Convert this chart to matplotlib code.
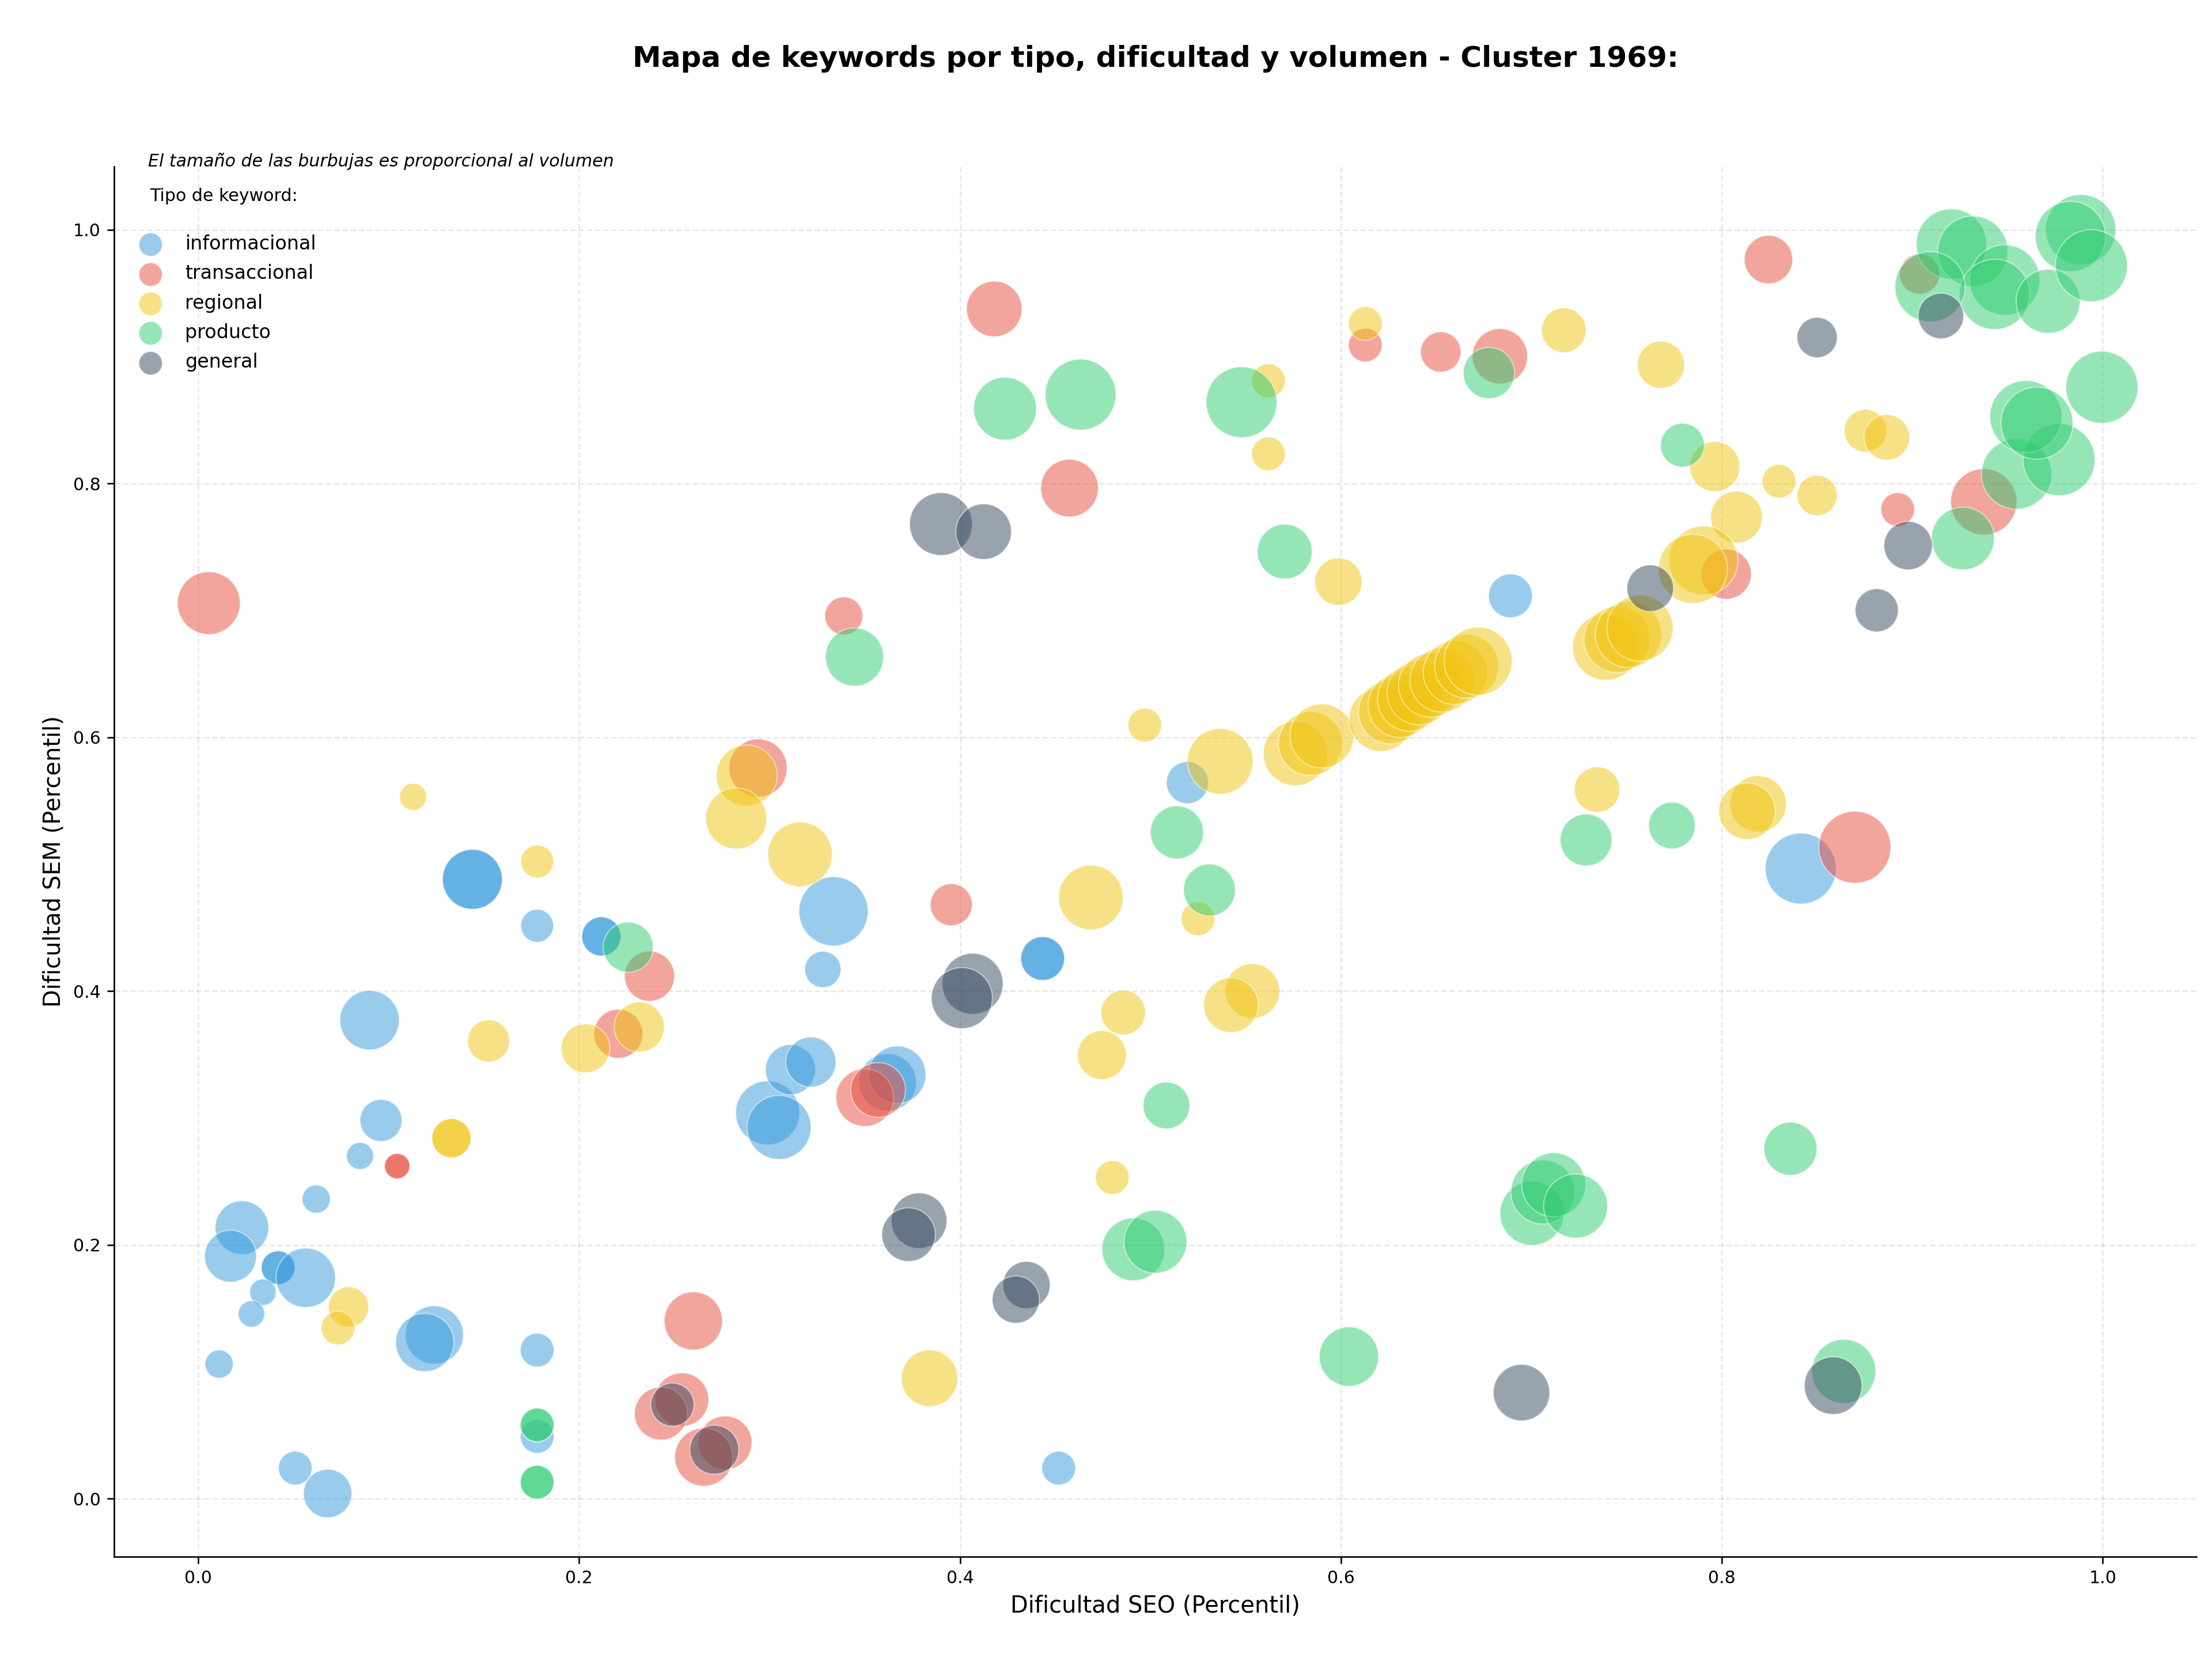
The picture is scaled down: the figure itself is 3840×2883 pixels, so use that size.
import matplotlib.pyplot as plt
import numpy as np

# --- datos (x = dificultad SEO, y = dificultad SEM, vol = volumen relativo)
info_x = [0.096, 0.085, 0.062, 0.023, 0.017, 0.042, 0.042, 0.0565, 0.034, 0.028, 0.011, 0.124, 0.119,
          0.178, 0.178, 0.051, 0.068, 0.299, 0.305, 0.090, 0.144, 0.144, 0.178, 0.2117, 0.2117,
          0.3336, 0.328, 0.311, 0.3217, 0.362, 0.367, 0.4434, 0.4434, 0.4518, 0.5194, 0.689, 0.8414]
info_y = [0.298, 0.270, 0.236, 0.2135, 0.191, 0.182, 0.182, 0.174, 0.1626, 0.1455, 0.106, 0.129, 0.123,
          0.117, 0.049, 0.024, 0.004, 0.304, 0.2925, 0.377, 0.488, 0.488, 0.4514, 0.443, 0.443,
          0.4628, 0.417, 0.338, 0.344, 0.328, 0.334, 0.4256, 0.4256, 0.024, 0.5642, 0.7114, 0.4965]
info_vol = [480, 199, 216, 778, 729, 308, 308, 955, 190, 190, 216, 918, 918,
            308, 308, 308, 635, 1109, 1109, 955, 973, 973, 292, 416, 416,
            1296, 357, 681, 681, 900, 900, 520, 520, 308, 480, 520, 1362]

trans_x = [0.0056, 0.1045, 0.1045, 0.237, 0.2206, 0.294, 0.26, 0.254, 0.243, 0.2767, 0.2655, 0.350, 0.357,
           0.339, 0.3954, 0.418, 0.4575, 0.6128, 0.6524, 0.6835, 0.8245, 0.8023, 0.8923, 0.9375, 0.9038, 0.8698]
trans_y = [0.7057, 0.262, 0.262, 0.4117, 0.3663, 0.5757, 0.140, 0.078, 0.067, 0.044, 0.0327, 0.316, 0.322,
           0.6956, 0.468, 0.9375, 0.7963, 0.909, 0.9036, 0.9002, 0.9764, 0.7285, 0.7795, 0.7855, 0.965, 0.5133]
trans_vol = [1069, 174, 174, 681, 650, 918, 918, 778, 762, 778, 918, 900, 812,
             392, 480, 838, 900, 308, 441, 829, 635, 681, 308, 1190, 441, 1406]

reg_x = [0.1129, 0.178, 0.1525, 0.2034, 0.2316, 0.133, 0.133, 0.079, 0.0734, 0.288, 0.2825, 0.316, 0.384,
         0.480, 0.4745, 0.4857, 0.5535, 0.5423, 0.4687, 0.525, 0.497, 0.5366, 0.5987, 0.5619, 0.5619,
         0.6128, 0.717, 0.768, 0.7963, 0.830, 0.850, 0.8754, 0.8866, 0.8077, 0.7903, 0.7848, 0.7345,
         0.819, 0.8132, 0.576, 0.584, 0.590, 0.621, 0.626, 0.631, 0.636, 0.641, 0.647, 0.653, 0.660,
         0.666, 0.672, 0.739, 0.745, 0.751, 0.757]
reg_y = [0.553, 0.502, 0.3607, 0.3548, 0.3716, 0.284, 0.284, 0.151, 0.1344, 0.5698, 0.536, 0.5077, 0.0948,
         0.253, 0.3495, 0.383, 0.400, 0.3889, 0.4737, 0.4569, 0.6096, 0.581, 0.7226, 0.881, 0.8233,
         0.926, 0.9207, 0.8935, 0.8133, 0.8017, 0.7905, 0.8415, 0.8363, 0.7735, 0.7393, 0.7327, 0.5587,
         0.5474, 0.5417, 0.587, 0.595, 0.601, 0.614, 0.620, 0.625, 0.630, 0.635, 0.641, 0.645, 0.651,
         0.656, 0.660, 0.671, 0.677, 0.681, 0.686]
reg_vol = [199, 292, 480, 650, 681, 416, 416, 441, 308, 1011, 1011, 1129, 864,
           308, 650, 541, 812, 812, 1129, 308, 308, 1170, 605, 308, 308,
           308, 541, 605, 681, 308, 441, 493, 562, 729, 1296, 1296, 562,
           864, 864, 1109, 1109, 1109, 1109, 1109, 1109, 1109, 1109, 1109, 1109, 1109,
           1109, 1253, 1190, 1190, 1190, 1190]

prod_x = [0.2258, 0.178, 0.178, 0.178, 0.178, 0.3446, 0.4236, 0.4633, 0.5478, 0.6777, 0.5705, 0.5139, 0.531,
          0.5084, 0.491, 0.5026, 0.6042, 0.7003, 0.706, 0.7117, 0.7232, 0.836, 0.864, 0.7287, 0.7738,
          0.7793, 0.9265, 0.9547, 0.977, 0.9596, 0.9654, 0.9995, 0.9205, 0.9317, 0.9485, 0.9432, 0.9093,
          0.9713, 0.9884, 0.983, 0.994]
prod_y = [0.4345, 0.058, 0.058, 0.0129, 0.0129, 0.6632, 0.8589, 0.870, 0.864, 0.887, 0.7463, 0.525, 0.4796,
          0.3098, 0.1964, 0.2024, 0.1119, 0.2248, 0.2416, 0.2473, 0.2305, 0.2757, 0.1003, 0.519, 0.5304,
          0.8301, 0.7566, 0.8074, 0.8187, 0.8527, 0.8475, 0.8758, 0.9887, 0.983, 0.9603, 0.949, 0.955,
          0.9435, 1.0, 0.9946, 0.9716]
prod_vol = [681, 308, 308, 308, 308, 918, 1069, 1362, 1362, 713, 812, 762, 729,
            590, 1069, 1069, 955, 1109, 1109, 1109, 1109, 762, 1109, 729, 590,
            520, 1069, 1340, 1406, 1406, 1406, 1406, 1340, 1340, 1340, 1340, 1340,
            1109, 1340, 1340, 1406]

gen_x = [0.249, 0.271, 0.390, 0.4124, 0.4066, 0.401, 0.3785, 0.373, 0.4349, 0.4293, 0.6948, 0.8584,
         0.8813, 0.850, 0.915, 0.8978, 0.7624]
gen_y = [0.074, 0.0385, 0.768, 0.762, 0.4057, 0.3944, 0.219, 0.208, 0.1683, 0.1568, 0.0835, 0.089,
         0.700, 0.915, 0.932, 0.751, 0.7174]
gen_vol = [506, 650, 1069, 838, 1011, 1011, 838, 778, 605, 605, 864, 900,
           506, 441, 562, 635, 590]

tipos = ['informacional', 'transaccional', 'regional', 'producto', 'general']
colores = {'informacional': '#3498db', 'transaccional': '#e74c3c', 'regional': '#f1c40f',
           'producto': '#2ecc71', 'general': '#34495e'}
datos = {'informacional': (info_x, info_y, info_vol),
         'transaccional': (trans_x, trans_y, trans_vol),
         'regional': (reg_x, reg_y, reg_vol),
         'producto': (prod_x, prod_y, prod_vol),
         'general': (gen_x, gen_y, gen_vol)}

fig = plt.figure(figsize=(16, 12.0125), dpi=240)
ax = fig.add_axes([0.0516, 0.0628, 0.9414, 0.837])

for t in tipos:
    x, y, vol = datos[t]
    ax.scatter(x, y, s=np.array(vol) * 1.0, c=colores[t], alpha=0.5,
               edgecolors='white', linewidths=0.6, label=t)

ax.set_xlabel('Dificultad SEO (Percentil)', fontsize=12)
ax.set_ylabel('Dificultad SEM (Percentil)', fontsize=12)
ax.set_title('Mapa de keywords por tipo, dificultad y volumen - Cluster 1969:',
             fontsize=15, fontweight='bold', pad=52)
ax.tick_params(labelsize=9)
ax.grid(True, linestyle='--', alpha=0.3)
ax.set_axisbelow(True)
ax.spines['top'].set_visible(False)
ax.spines['right'].set_visible(False)

leg = ax.legend(loc='upper left', bbox_to_anchor=(0, 0.997), frameon=False, fontsize=10,
                title='Tipo de keyword:\n', title_fontsize=9, scatterpoints=1, labelspacing=0.55)
for h in leg.legend_handles:
    h.set_sizes([150])

ax.text(0.0163, 1.0, 'El tamaño de las burbujas es proporcional al volumen',
        transform=ax.transAxes, fontsize=9, style='italic', va='baseline')

fig.savefig('out.png', dpi=240)
